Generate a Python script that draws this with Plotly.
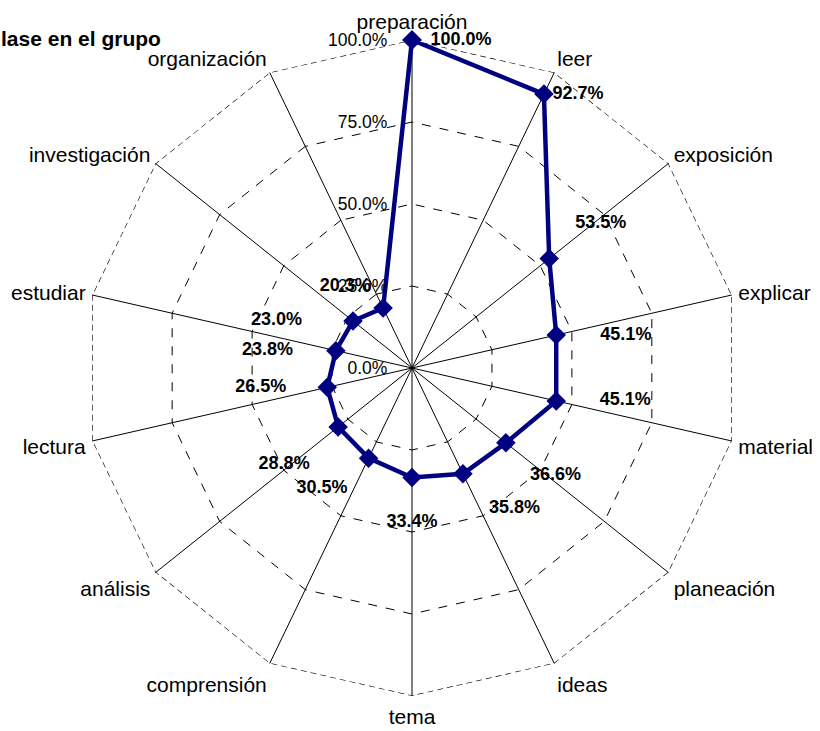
import plotly.graph_objects as go

categories = ["preparación", "leer", "exposición", "explicar", "material", "planeación",
              "ideas", "tema", "comprensión", "análisis", "lectura", "estudiar",
              "investigación", "organización"]
values = [1.000, 0.927, 0.535, 0.451, 0.451, 0.366, 0.358, 0.334, 0.305, 0.288,
          0.265, 0.238, 0.230, 0.203]
radial_ticks = [0, 0.25, 0.5, 0.75, 1.0]
title_text = "lase en el grupo"

# data-label placement (style only)
label_pos = ["middle right", "middle right", "top right", "middle right", "middle right",
             "bottom right", "bottom right", "bottom center", "bottom left", "bottom left",
             "middle left", "middle left", "middle left", "top left"]
label_gap = [28, 12, 40, 69, 68, 37, 40, 56, 32, 44, 64, 67, 80, 18]

L, R, T, B = 84, 80, 40, 35
W, H = 820, 731
dom = W - L - R

fig = go.Figure()
# outer dashed boundary at the last radial tick
fig.add_trace(go.Scatterpolar(
    r=[radial_ticks[-1]] * (len(categories) + 1),
    theta=categories + [categories[0]],
    mode="lines",
    line=dict(color="black", width=1.2, dash="6px,4px"),
    cliponaxis=False,
    hoverinfo="skip",
    showlegend=False,
))
fig.add_trace(go.Scatterpolar(
    r=values + [values[0]],
    theta=categories + [categories[0]],
    mode="lines+markers",
    line=dict(color="#000080", width=4.5),
    marker=dict(symbol="diamond", size=15, color="#000080"),
    cliponaxis=False,
    showlegend=False,
))
fig.add_trace(go.Scatterpolar(
    r=values,
    theta=categories,
    mode="markers+text",
    marker=dict(size=label_gap, color="rgba(0,0,0,0)", opacity=0, line=dict(width=0)),
    text=[f"{v*100:.1f}%" for v in values],
    textposition=label_pos,
    textfont=dict(family="Liberation Sans, Arial", size=18, color="black", weight="bold"),
    cliponaxis=False,
    showlegend=False,
    hoverinfo="skip",
))

fig.update_layout(
    width=W, height=H, autosize=False,
    margin=dict(l=L, r=R, t=T, b=B),
    paper_bgcolor="white", plot_bgcolor="white",
    font=dict(family="Liberation Sans, Arial", color="black"),
    polar=dict(
        bgcolor="white",
        gridshape="linear",
        radialaxis=dict(
            range=[0, 1.0], tickvals=radial_ticks, tickformat=".1%",
            angle=90, side="counterclockwise", tickangle=90,
            showline=False, ticks="outside", ticklen=18, tickcolor="rgba(0,0,0,0)",
            gridcolor="black", griddash="dash", gridwidth=1,
            tickfont=dict(size=17.5, color="black"),
        ),
        angularaxis=dict(
            rotation=90, direction="clockwise",
            gridcolor="black", gridwidth=1,
            showline=False,
            ticks="outside", ticklen=2, tickcolor="rgba(0,0,0,0)",
            tickfont=dict(size=21, color="black"),
        ),
    ),
    annotations=[dict(
        text=f"<b>{title_text}</b>", xref="paper", yref="paper",
        x=-(L + 1)/dom, y=1 + 2/dom, xanchor="left", yanchor="middle",
        showarrow=False, font=dict(size=21, color="black"),
    )],
)

fig.write_html("out.html")
